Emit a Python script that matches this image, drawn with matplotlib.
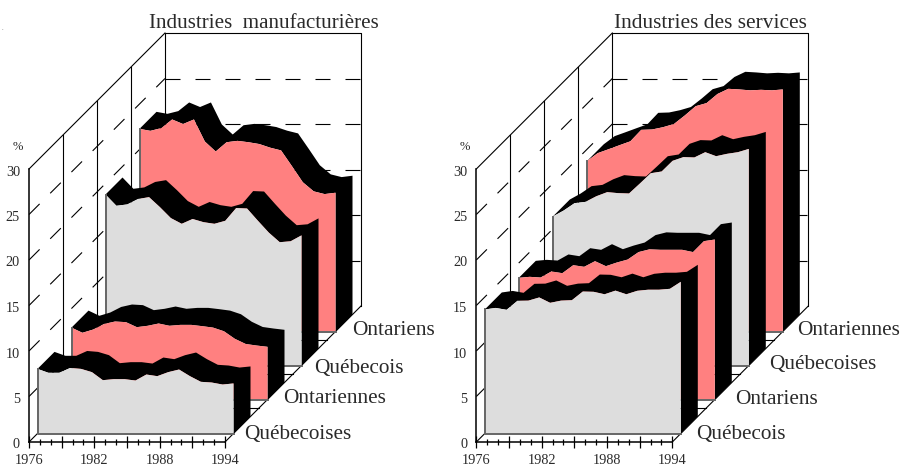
# Two oblique "3D" area panels, drawn on normal axes: depth is a shift in year and value.

import numpy
import matplotlib
matplotlib.use('Agg')
import matplotlib.pyplot as plt
from matplotlib.transforms import ScaledTranslation

plt.rcParams['font.family'] = ['Liberation Serif', 'DejaVu Serif']

years = numpy.arange(1976, 1995)
tickLabels = ['1976', '', '1982', '', '1988', '', '1994']
valueTicks = [0, 5, 10, 15, 20, 25, 30]

# Manufacturing, front to back
manuQcF = [7.1, 6.67, 6.67, 7.2, 7.1, 6.74, 5.86, 5.97, 5.97, 5.82, 6.48, 6.3, 6.74, 7.03, 6.3, 5.68, 5.6, 5.38, 5.5]
manuOnF = [7.9, 7.33, 7.69, 8.3, 8.57, 8.5, 7.95, 8.1, 8.35, 8.1, 8.2, 8.2, 8.06, 7.9, 7.5, 6.67, 6.1, 5.93, 5.79]
manuQcM = [18.79, 17.55, 17.7, 18.3, 18.5, 17.4, 16.2, 15.57, 16.1, 15.75, 15.57, 15.9, 17.3, 17.25, 15.9, 14.6, 13.55, 13.65, 14.3]
manuOnM = [22.27, 22.05, 22.35, 23.3, 22.8, 23.3, 20.88, 19.78, 20.8, 20.95, 20.8, 20.6, 20.2, 19.9, 18.17, 16.4, 15.4, 15.1, 15.25]

# Services, front to back
servQcM = [13.63, 13.8, 13.59, 14.58, 14.6, 14.95, 14.36, 14.6, 14.65, 15.6, 15.57, 15.3, 15.7, 15.3, 15.68, 15.8, 15.8, 15.9, 16.67]
servOnM = [13.37, 13.48, 13.4, 14.07, 13.88, 14.76, 14.58, 15.2, 14.65, 15.05, 15.38, 16.2, 16.5, 16.45, 16.45, 16.45, 16.2, 17.4, 17.58]
servQcF = [16.37, 17.03, 17.84, 17.98, 18.6, 19.05, 18.94, 18.9, 20.0, 21.13, 21.32, 22.49, 22.9, 22.86, 23.44, 23.0, 23.26, 23.44, 23.8]
servOnF = [18.71, 19.6, 20.03, 20.47, 20.9, 22.16, 22.2, 22.45, 22.8, 23.74, 24.76, 25.1, 26.1, 26.67, 26.6, 26.5, 26.56, 26.5, 26.6]

manuNames = ['Québecoises', 'Ontariennes', 'Québecois', 'Ontariens']
servNames = ['Québecois', 'Ontariens', 'Québecoises', 'Ontariennes']
faceColours = ['#dddddd', '#ff8080', '#dddddd', '#ff8080']

FIG_W, FIG_H = 904, 466
PX_YEAR = 196 / 18.0
PX_VALUE = 273 / 30.0
DEPTH_PX = 136.0
LINE = '#000000'
EDGE = '#666666'
TEXT = '#2a2a2a'
LW = 0.8
# 15 px on, 15 px off, given in line widths because matplotlib scales dashes
DASH = (15 * 0.72 / LW, 15 * 0.72 / LW)


def shift(depthPx):
    # Oblique projection: depth moves right and up by the same number of pixels
    return depthPx / PX_YEAR, depthPx / PX_VALUE


def wall(ax):
    dx, dy = shift(DEPTH_PX)
    x0, x1 = years[0], years[-1]
    # Back wall and side edges
    ax.plot([x0 + dx, x0 + dx, x1 + dx, x1 + dx], [dy, 30 + dy, 30 + dy, dy], color=LINE, lw=LW, clip_on=False)
    ax.plot([x0, x0 + dx], [30, 30 + dy], color=LINE, lw=LW, clip_on=False)
    ax.plot([x0, x0 + dx], [0, dy], color=LINE, lw=LW, clip_on=False)
    ax.plot([x1, x1 + dx], [0, dy], color=LINE, lw=LW, clip_on=False)
    # Dashed value lines, each wall starts its own dash pattern
    for v in valueTicks[1:-1]:
        ax.plot([x0, x0 + dx], [v, v + dy], color=LINE, lw=LW, dashes=DASH, clip_on=False)
        ax.plot([x0 + dx, x1 + dx], [v + dy, v + dy], color=LINE, lw=LW, dashes=DASH, clip_on=False)
    # Category lines on the wall and floor
    for k in (1, 2, 3):
        sx, sy = shift(DEPTH_PX * k / 4)
        ax.plot([x0 + sx, x0 + sx], [sy, 30 + sy], color=LINE, lw=LW, clip_on=False)
        ax.plot([x0 + sx, x1 + sx], [sy, sy], color=LINE, lw=LW, clip_on=False)


def ribbon(ax, values, slot, colour):
    sx, sy = shift(DEPTH_PX * (slot + 0.25) / 4)
    tx, ty = shift(DEPTH_PX * 0.5 / 4)
    xs = years + sx
    ys = numpy.array(values) + sy
    base = numpy.full(len(xs), sy)
    z = 3 + (3 - slot) * 2
    # Top surface and right side are one solid black shape
    blackX = numpy.concatenate((xs + tx, [xs[-1] + tx, xs[-1]], xs[::-1]))
    blackY = numpy.concatenate((ys + ty, [sy + ty, sy], ys[::-1]))
    ax.fill(blackX, blackY, color='black', lw=0, clip_on=False, zorder=z)
    ax.fill(numpy.concatenate((xs, xs[::-1])), numpy.concatenate((ys, base)),
            color=colour, lw=0, clip_on=False, zorder=z + 1)
    ax.plot([xs[0], xs[0], xs[-1]], [ys[0], sy, sy], color=EDGE, lw=1.4, clip_on=False,
            zorder=z + 1)


def panel(fig, leftPx, title, titlePx, titleSize, names, series, namePx):
    ax = fig.add_axes([leftPx / FIG_W, (FIG_H - 442) / FIG_H, 196 / FIG_W, 273 / FIG_H])
    ax.set_xlim(years[0], years[-1])
    ax.set_ylim(0, 30)
    ax.patch.set_alpha(0)
    ax.spines['top'].set_visible(False)
    ax.spines['right'].set_visible(False)
    ax.spines['left'].set_linewidth(1.1)
    ax.spines['bottom'].set_linewidth(1.1)
    wall(ax)
    for slot in range(3, -1, -1):
        ribbon(ax, series[slot], slot, faceColours[slot])
    ax.set_xticks(years[::3])
    ax.set_xticklabels(tickLabels, fontsize=10.3, color=TEXT)
    ax.set_xticks(years, minor=True)
    ax.tick_params(axis='x', which='major', direction='inout', length=8.6, width=0.9, pad=4.5)
    ax.tick_params(axis='x', which='minor', direction='inout', length=4.3, width=0.9)
    ax.set_yticks(valueTicks)
    ax.tick_params(axis='y', length=0, pad=6.5, labelsize=10.3, labelcolor=TEXT)
    # Value labels sit a little under their level in the original
    down = ScaledTranslation(0, -1.5 / 100, fig.dpi_scale_trans)
    for label in ax.get_yticklabels():
        label.set_transform(label.get_transform() + down)
    toX = lambda px: years[0] + (px - leftPx) / PX_YEAR
    toY = lambda px: (442 - px) / PX_VALUE
    ax.text(toX(leftPx - 11), toY(150), '%', fontsize=9, color=TEXT, ha='center', va='baseline')
    ax.text(toX(titlePx), toY(28.3), title, fontsize=titleSize, color=TEXT, ha='left', va='baseline')
    for (px, py), name in zip(namePx, names):
        ax.text(toX(leftPx + px), toY(py), name, fontsize=15.3, color=TEXT, ha='left', va='baseline')


def makeGraph():
    fig = plt.figure(figsize=(FIG_W / 100, FIG_H / 100), dpi=100)
    panel(fig, 29, 'Industries  manufacturières', 149, 15.1, manuNames, [manuQcF, manuOnF, manuQcM, manuOnM],
          [(215.3, 439), (254.3, 402.7), (285.3, 372.7), (322.7, 335)])
    panel(fig, 476.3, 'Industries des services', 614, 15.4, servNames, [servQcM, servOnM, servQcF, servOnF],
          [(220, 439), (259, 404), (292.4, 369.3), (320.7, 334.7)])
    # Stray speck in the top left corner of the original
    fig.text(3 / FIG_W, 1 - 30 / FIG_H, '-', fontsize=3, color=TEXT, ha='center', va='center')
    fig.savefig('out.png', dpi=100)


if __name__ == '__main__':
    makeGraph()
